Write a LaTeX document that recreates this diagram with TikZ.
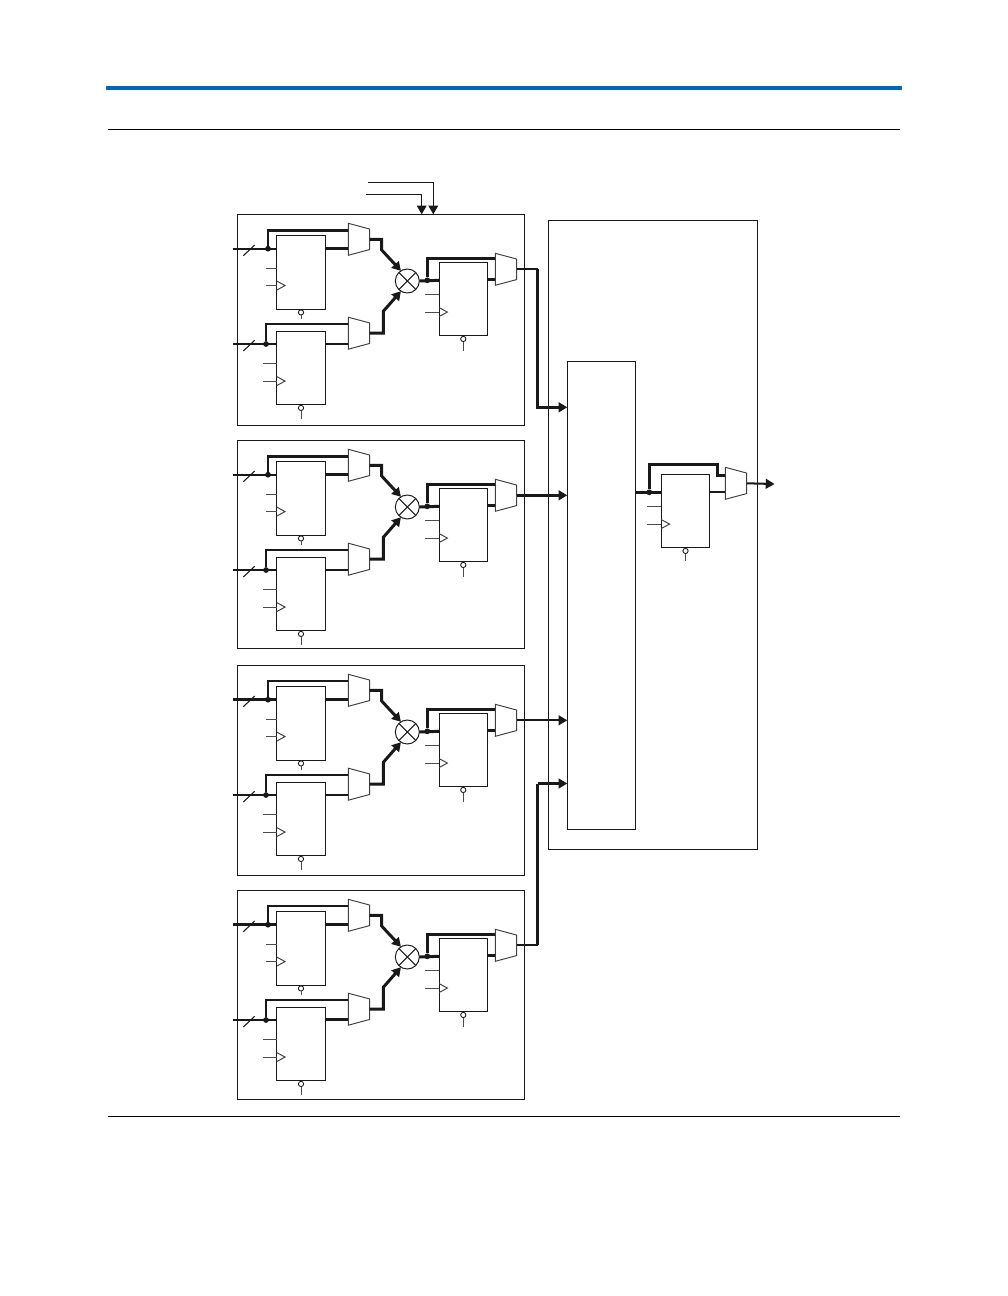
\documentclass[tikz,border=0pt]{standalone}
\usepackage{xcolor}
\usepackage{tikz}
\usetikzlibrary{positioning, shapes.geometric, arrows.meta, calc}

\definecolor{headblue}{RGB}{0,102,184}

% stubs, clock mark and enable bubble of one register
\newcommand{\regparts}[3]{
    \draw [stub] ($(#1.north west)+(-#2,32.5)$) -- ($(#1.north west)+(0,32.5)$);
    \draw [stub] ($(#1.north west)+(-#2,50)$) -- ($(#1.north west)+(0,50)$);
    \draw [clockmark] ($(#1.north west)+(0,45.5)$) -- ($(#1.north west)+(8.3,50)$) -- ($(#1.north west)+(0,54.5)$);
    \node (#1en) [bubble] at ($(#1.south)+(0,3.4)$) {};
    \coordinate (#1st) at ($(#1.south)+(0,#3)$);
    \draw [stub] (#1en) -- (#1st);
}

\begin{document}
\begin{tikzpicture}[
        x=0.02cm, y=-0.02cm,
        >={Triangle[length=5pt,width=5.6pt]},
        box/.style={draw=black!90, rectangle, line width=0.55pt, inner sep=0pt, outer sep=0pt, anchor=north west},
        regbox/.style={draw=black!90, rectangle, line width=0.55pt, inner sep=0pt, outer sep=0pt, minimum width=0.97cm, minimum height=1.47cm},
        mux/.style={draw=black!75, trapezium, trapezium stretches=true, shape border rotate=270, trapezium left angle=74.3, trapezium right angle=74.3, minimum width=0.64cm, minimum height=0.428cm, inner sep=1pt, outer sep=0pt, line width=0.55pt},
        multnode/.style={draw=black!90, circle, minimum size=0.48cm, inner sep=0pt, outer sep=0pt, line width=0.55pt},
        dotnode/.style={fill=black!90, circle, minimum size=0.115cm, inner sep=0pt, outer sep=0pt},
        bubble/.style={draw=black!90, fill=white, circle, minimum size=0.105cm, inner sep=0pt, outer sep=0pt, line width=0.5pt},
        stub/.style={draw=black!70, line width=0.55pt},
        clockmark/.style={draw=black!75, line width=0.55pt},
        fine/.style={black!90, line width=0.6pt},
        med/.style={black!90, line width=1.15pt},
        fat/.style={black!90, line width=1.7pt}
    ]
        \useasboundingbox (0,0) rectangle (1008,1296);

        % Page rules
        \coordinate (headl) at (106,88);
        \coordinate (headr) at (902,88);
        \coordinate (midl) at (108,129.3);
        \coordinate (midr) at (900,129.3);
        \coordinate (footl) at (108,1116.3);
        \coordinate (footr) at (900,1116.3);
        \draw [headblue, line width=2.3pt] (headl) -- (headr);
        \draw [black, line width=0.6pt] (midl) -- (midr);
        \draw [black, line width=0.5pt] (footl) -- (footr);

        % Four multiplier blocks
        \foreach \i/\dy/\bh/\wina/\wbusa/\winb/\wbusb/\wregb in {1/0/211.4/1.05/1.7/1.05/1.05/1.15, 2/226/208/1.05/1.7/1.05/1.05/1.15, 3/451/209.7/1.55/1.1/1.55/1.25/1.15, 4/676/209/1.55/1.1/1.55/1.3/1.7} {
            \begin{scope}[shift={(0,\dy)}]
                \node (block\i) [box, minimum width=5.74cm, minimum height={\bh*0.02cm}] at (237.3,214.3) {};
                \node (rega\i) [regbox] at (301,272.3) {};
                \node (regb\i) [regbox] at (301,367.8) {};
                \node (regc\i) [regbox] at (463.3,298.8) {};
                \node (muxa\i) [mux] at (359,239.3) {};
                \node (muxb\i) [mux] at (359,333.2) {};
                \node (muxc\i) [mux] at (506,269.3) {};
                \node (mult\i) [multnode] at (407.3,281) {};
                \node (dota\i) [dotnode] at (268,248.7) {};
                \node (dotb\i) [dotnode] at (266,344) {};
                \node (dotc\i) [dotnode] at (427.3,280.3) {};
                \coordinate (ina\i) at (233,248.7);
                \coordinate (inb\i) at (233,344);
                \coordinate (muxaup\i) at (348.3,230.3);
                \coordinate (muxalo\i) at (348.3,248.7);
                \coordinate (muxbup\i) at (348.3,324);
                \coordinate (muxblo\i) at (348.3,343.7);
                \coordinate (muxcup\i) at (495.3,258.3);
                \coordinate (muxclo\i) at (495.3,279.3);
                \coordinate (benda\i) at (381.7,239.3);
                \coordinate (bendb\i) at (383.3,333.2);

                % Inputs
                \draw [line width=\wina pt, black!90] (ina\i) -- (rega\i.west |- ina\i);
                \draw [line width=\winb pt, black!90] (inb\i) -- (regb\i.west |- inb\i);
                \draw [fine] (243.3,255.7) -- (254.7,245);
                \draw [fine] (243.3,351) -- (254.7,340.3);
                \draw [line width=\wbusa pt, black!90] (dota\i) |- (muxaup\i);
                \draw [line width=\wbusb pt, black!90] (dotb\i) |- (muxbup\i);
                \draw [fat] (rega\i.east |- muxalo\i) -- (muxalo\i);
                \draw [line width=\wregb pt, black!90] (regb\i.east |- muxblo\i) -- (muxblo\i);

                % Into the multiplier
                \draw [->, fat] (muxa\i.east) -- (benda\i) -- ++(0,10.7) -- (mult\i.122);
                \draw [->, fat] (muxb\i.east) -- (bendb\i) -- ++(0,-21.9) -- (mult\i.238);
                \draw [fine] (mult\i.45) -- (mult\i.225);
                \draw [fine] (mult\i.135) -- (mult\i.315);

                % Output register
                \draw [fat] (mult\i.east) -- (regc\i.west |- dotc\i);
                \draw [fat] (dotc\i) |- (muxcup\i);
                \draw [fat] (regc\i.east |- muxclo\i) -- (muxclo\i);

                \regparts{rega\i}{11}{10}
                \regparts{regb\i}{14}{14}
                \regparts{regc\i}{14}{15}
            \end{scope}
        }

        % Control lines
        \coordinate (ctla) at (368,182.3);
        \coordinate (ctlb) at (366.3,194.3);
        \coordinate (ctlaend) at (433.3,214.3);
        \coordinate (ctlbend) at (421.7,214.3);
        \draw [->, fine] (ctla) -| (ctlaend);
        \draw [->, fine] (ctlb) -| (ctlbend);

        % Adder block
        \node (outer) [box, minimum width=4.18cm, minimum height=12.59cm] at (548.5,220) {};
        \node (adder) [box, fill=white, minimum width=1.37cm, minimum height=9.36cm] at (567.3,361.3) {};
        \node (regout) [regbox] at (685.5,510.8) {};
        \node (muxout) [mux] at (736,483.3) {};
        \node (dotout) [dotnode] at (649.3,492.3) {};
        \coordinate (addin1) at (567.3,407.3);
        \coordinate (addin2) at (567.3,495.3);
        \coordinate (addin3) at (567.3,720.3);
        \coordinate (addin4) at (567.3,783.5);
        \coordinate (run1) at (537.5,269.3);
        \coordinate (run4) at (537.5,945.3);
        \coordinate (muxoutup) at (725.3,475.7);
        \coordinate (muxoutlo) at (725.3,492.3);
        \coordinate (busout) at (717.7,464.3);
        \coordinate (final) at (774.5,484);

        % Block outputs
        \draw [med] (muxc1.east) -- (run1);
        \draw [->, fat] (run1) |- (addin1);
        \draw [->, fat] (muxc2.east) -- (addin2);
        \draw [->, med] (muxc3.east) -- (addin3);
        \draw [med] (muxc4.east) -- (run4);
        \draw [fat] (run4) -- (run4 |- addin4);
        \draw [->, fat] (run4 |- addin4) -- (addin4);

        % Output stage
        \draw [fat] (adder.east |- dotout) -- (regout.west |- dotout);
        \draw [fat] (dotout) |- (busout) |- (muxoutup);
        \draw [med] (regout.east |- muxoutlo) -- (muxoutlo);
        \draw [->, med] (muxout.east) -- (final);
        \regparts{regout}{14.5}{13.5}
    \end{tikzpicture}
\end{document}
